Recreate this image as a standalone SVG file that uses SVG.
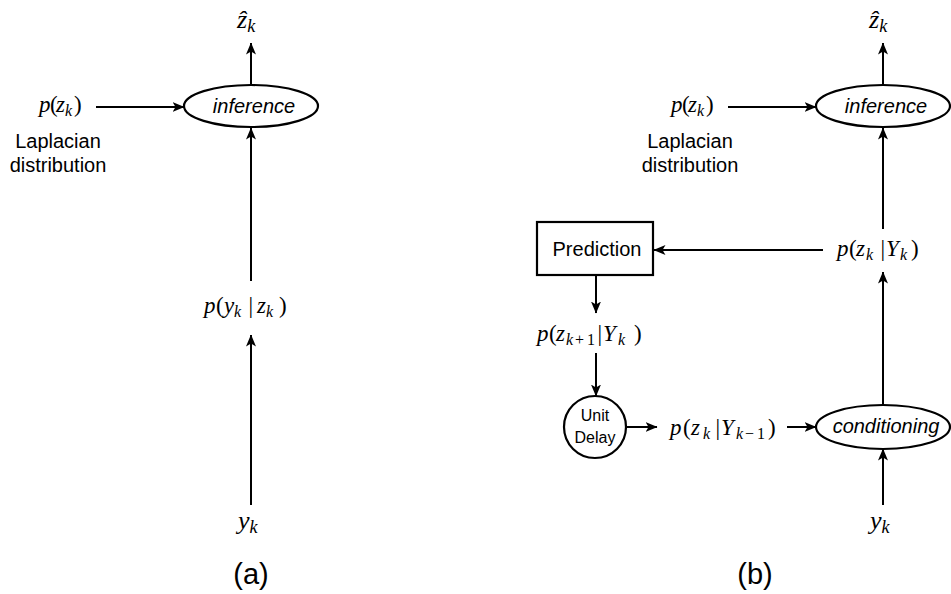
<svg xmlns="http://www.w3.org/2000/svg" width="951" height="594" viewBox="0 0 951 594">
  <style>
    .ln { fill: none; stroke: #000; stroke-width: 2; }
    .shape { fill: #fff; stroke: #000; stroke-width: 2.2; }
    .sans { font-family: "Liberation Sans", Arial, sans-serif; font-size: 20px; fill: #000; }
    .lab { font-style: italic; text-anchor: middle; }
    .cap { text-anchor: middle; }
    .tag { font-size: 29px; }
    .small { font-size: 16px; }
    .m { font-family: "Liberation Serif", "Times New Roman", serif; font-size: 23px; fill: #000; }
    .big { font-size: 26px; }
    .i { font-style: italic; }
    .s { font-style: italic; font-size: 16px; }
    .big .s { font-size: 18px; }
    .up { font-style: normal; }
  </style>
  <defs>
    <marker id="arr" viewBox="0 0 12 10" refX="11.5" refY="5" markerWidth="12" markerHeight="10" markerUnits="userSpaceOnUse" orient="auto">
      <path d="M0,0 L12,5 L0,10 L3,5 Z" fill="#000"/>
    </marker>
  </defs>

  <!-- connectors -->
  <g id="connectors" class="ln" marker-end="url(#arr)">
    <!-- panel (a) -->
    <line x1="251" y1="85" x2="251" y2="43"/>
    <line x1="96" y1="107" x2="184" y2="107"/>
    <line x1="251" y1="281" x2="251" y2="128"/>
    <line x1="251" y1="505" x2="251" y2="335"/>
    <!-- panel (b) -->
    <line x1="883" y1="85" x2="883" y2="43"/>
    <line x1="728" y1="107" x2="816" y2="107"/>
    <line x1="883" y1="229" x2="883" y2="128"/>
    <line x1="823" y1="250" x2="654" y2="250"/>
    <line x1="596" y1="275" x2="596" y2="313"/>
    <line x1="596" y1="353" x2="596" y2="396"/>
    <line x1="626" y1="427" x2="657" y2="427"/>
    <line x1="787" y1="427" x2="816" y2="427"/>
    <line x1="883" y1="405" x2="883" y2="272"/>
    <line x1="883" y1="505" x2="883" y2="449"/>
  </g>

  <!-- panel (a) -->
  <g id="a-zhat"><text class="m big" x="237" y="28"><tspan class="i">ẑ</tspan><tspan class="s" dy="4">k</tspan></text></g>
  <g id="a-inference">
    <ellipse class="shape" cx="251" cy="106" rx="67" ry="21"/>
    <text class="sans lab" x="254" y="113">inference</text>
  </g>
  <g id="a-prior">
    <text class="m" y="112"><tspan class="i" x="39">p</tspan><tspan x="50">(</tspan><tspan class="i" x="56">z</tspan><tspan class="s" x="65" y="116">k</tspan><tspan x="74" y="112">)</tspan></text>
    <text class="sans cap" x="58" y="148">Laplacian</text>
    <text class="sans cap" x="58" y="172">distribution</text>
  </g>
  <g id="a-likelihood">
    <text class="m" y="313"><tspan class="i" x="204">p</tspan><tspan x="216">(</tspan><tspan class="i" x="224">y</tspan><tspan class="s" x="234" y="317">k</tspan><tspan x="248.5" y="313">|</tspan><tspan class="i" x="257">z</tspan><tspan class="s" x="266" y="317">k</tspan><tspan x="279" y="313">)</tspan></text>
  </g>
  <g id="a-obs"><text class="m big" x="238" y="529"><tspan class="i">y</tspan><tspan class="s" dy="4">k</tspan></text></g>
  <text class="sans cap tag" x="251" y="584">(a)</text>

  <!-- panel (b) -->
  <g id="b-zhat"><text class="m big" x="869" y="28"><tspan class="i">ẑ</tspan><tspan class="s" dy="4">k</tspan></text></g>
  <g id="b-inference">
    <ellipse class="shape" cx="883" cy="106" rx="67" ry="21"/>
    <text class="sans lab" x="886" y="113">inference</text>
  </g>
  <g id="b-prior">
    <text class="m" y="112"><tspan class="i" x="671">p</tspan><tspan x="682">(</tspan><tspan class="i" x="688">z</tspan><tspan class="s" x="697" y="116">k</tspan><tspan x="706" y="112">)</tspan></text>
    <text class="sans cap" x="690" y="148">Laplacian</text>
    <text class="sans cap" x="690" y="172">distribution</text>
  </g>
  <g id="b-posterior">
    <text class="m" y="256"><tspan class="i" x="837">p</tspan><tspan x="849">(</tspan><tspan class="i" x="856">z</tspan><tspan class="s" x="866" y="260">k</tspan><tspan x="880.5" y="256">|</tspan><tspan class="i" x="886">Y</tspan><tspan class="s" x="900" y="260">k</tspan><tspan x="911" y="256">)</tspan></text>
  </g>
  <g id="b-prediction">
    <rect class="shape" x="537" y="222" width="116" height="53"/>
    <text class="sans cap" x="597" y="256">Prediction</text>
  </g>
  <g id="b-predicted">
    <text class="m" y="341"><tspan class="i" x="537">p</tspan><tspan x="549">(</tspan><tspan class="i" x="556">z</tspan><tspan class="s" x="566" y="345">k</tspan><tspan class="s up" x="575">+</tspan><tspan class="s up" x="587">1</tspan><tspan x="597.5" y="341">|</tspan><tspan class="i" x="603">Y</tspan><tspan class="s" x="618" y="345">k</tspan><tspan x="634" y="341">)</tspan></text>
  </g>
  <g id="b-delay">
    <circle class="shape" cx="595" cy="427" r="31"/>
    <text class="sans cap small" x="595" y="421">Unit</text>
    <text class="sans cap small" x="595" y="443">Delay</text>
  </g>
  <g id="b-prior-pred">
    <text class="m" y="435"><tspan class="i" x="670">p</tspan><tspan x="683">(</tspan><tspan class="i" x="691">z</tspan><tspan class="s" x="703" y="439">k</tspan><tspan x="715.5" y="435">|</tspan><tspan class="i" x="721">Y</tspan><tspan class="s" x="736" y="439">k</tspan><tspan class="s up" x="745">−</tspan><tspan class="s up" x="757">1</tspan><tspan x="768" y="435">)</tspan></text>
  </g>
  <g id="b-conditioning">
    <ellipse class="shape" cx="883" cy="427" rx="67" ry="22"/>
    <text class="sans lab" x="886" y="433">conditioning</text>
  </g>
  <g id="b-obs"><text class="m big" x="870" y="529"><tspan class="i">y</tspan><tspan class="s" dy="4">k</tspan></text></g>
  <text class="sans cap tag" x="755" y="584">(b)</text>
</svg>
